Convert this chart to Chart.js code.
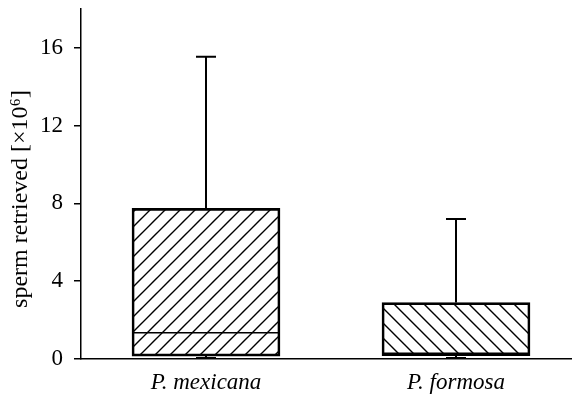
<!DOCTYPE html>
<html>
<head>
<meta charset="utf-8">
<script src="https://cdn.jsdelivr.net/npm/chart.js@4"></script>
<style>
  html, body { margin: 0; padding: 0; background: #fff; overflow: hidden; }
  #wrap { width: 581px; height: 394px; }
</style>
</head>
<body>
<div id="wrap"><canvas id="spermChart"></canvas></div>
<script>
// box plot values (x10^6)
const species = ['P. mexicana', 'P. formosa'];
const whiskerLow = [0.05, 0.05];
const q1 = [0.15, 0.17];
const median = [1.35, 0.3];
const q3 = [7.75, 2.9];
const whiskerHigh = [15.55, 7.2];
const yTicks = [0, 4, 8, 12, 16];

// diagonal hatch fills, "/" for the first box and "\" for the second
function hatch(dir) {
    const s = 15;
    const c = document.createElement('canvas');
    c.width = s; c.height = s;
    const g = c.getContext('2d');
    g.strokeStyle = '#000';
    g.lineWidth = 1.4;
    g.beginPath();
    if (dir === '/') {
        g.moveTo(0, s); g.lineTo(s, 0);
        g.moveTo(-2, 2); g.lineTo(2, -2);
        g.moveTo(s - 2, s + 2); g.lineTo(s + 2, s - 2);
    } else {
        g.moveTo(0, 0); g.lineTo(s, s);
        g.moveTo(-2, s - 2); g.lineTo(2, s + 2);
        g.moveTo(s - 2, -2); g.lineTo(s + 2, 2);
    }
    g.stroke();
    return g.createPattern(c, 'repeat');
}

// whiskers and medians, placed with the chart's own scales
const boxExtras = {
    id: 'boxExtras',
    afterDatasetsDraw(chart) {
        const ctx = chart.ctx;
        const xs = chart.scales.x, ys = chart.scales.y;
        const bars = chart.getDatasetMeta(0).data;
        ctx.save();
        ctx.strokeStyle = '#000';
        species.forEach((name, i) => {
            const x = xs.getPixelForValue(i);
            const half = bars[i].width / 2;
            ctx.lineWidth = 2;
            ctx.beginPath();
            ctx.moveTo(x, ys.getPixelForValue(q3[i]));
            ctx.lineTo(x, ys.getPixelForValue(whiskerHigh[i]));
            ctx.moveTo(x - 10, ys.getPixelForValue(whiskerHigh[i]));
            ctx.lineTo(x + 10, ys.getPixelForValue(whiskerHigh[i]));
            ctx.moveTo(x, ys.getPixelForValue(q1[i]));
            ctx.lineTo(x, ys.getPixelForValue(whiskerLow[i]));
            ctx.moveTo(x - 10, ys.getPixelForValue(whiskerLow[i]));
            ctx.lineTo(x + 10, ys.getPixelForValue(whiskerLow[i]));
            ctx.stroke();
            ctx.lineWidth = 1.5;
            ctx.beginPath();
            ctx.moveTo(x - half, ys.getPixelForValue(median[i]));
            ctx.lineTo(x + half, ys.getPixelForValue(median[i]));
            ctx.stroke();
        });
        ctx.restore();
    }
};

new Chart(document.getElementById('spermChart'), {
    type: 'bar',
    data: {
        labels: species,
        datasets: [{
            data: species.map((s, i) => [q1[i], q3[i]]),
            backgroundColor: [hatch('/'), hatch('\\')],
            borderColor: '#000',
            borderWidth: 2,
            borderSkipped: false,
            barThickness: 148
        }]
    },
    options: {
        responsive: true,
        maintainAspectRatio: false,
        animation: false,
        layout: { padding: { top: 9, right: 0, bottom: 0, left: 0 } },
        plugins: { legend: { display: false }, tooltip: { enabled: false } },
        scales: {
            x: {
                afterFit: (scale) => { scale.height = 35; scale.paddingLeft = 0; scale.paddingRight = 0; },
                grid: { display: true, drawOnChartArea: false, drawTicks: false },
                border: { color: '#000', width: 1.5 },
                ticks: {
                    color: '#000',
                    padding: 10,
                    font: { family: 'Liberation Serif', size: 23, style: 'italic' }
                }
            },
            y: {
                min: 0,
                max: 18,
                afterBuildTicks: (scale) => { scale.ticks = yTicks.map(v => ({ value: v })); },
                afterFit: (scale) => { scale.width = 81; scale.paddingTop = 0; scale.paddingBottom = 0; },
                grid: { drawOnChartArea: false, drawTicks: true, tickLength: 7, color: '#000', lineWidth: 1.5 },
                border: { color: '#000', width: 1.5 },
                ticks: {
                    color: '#000',
                    padding: 11,
                    font: { family: 'Liberation Serif', size: 23 }
                },
                title: {
                    display: true,
                    // trailing spaces nudge the rotated title down, as in the original
                    text: 'sperm retrieved [×10⁶]     ',
                    color: '#000',
                    padding: { top: 6, bottom: 6 },
                    font: { family: 'Liberation Serif', size: 24 }
                }
            }
        }
    },
    plugins: [boxExtras]
});
</script>
</body>
</html>
